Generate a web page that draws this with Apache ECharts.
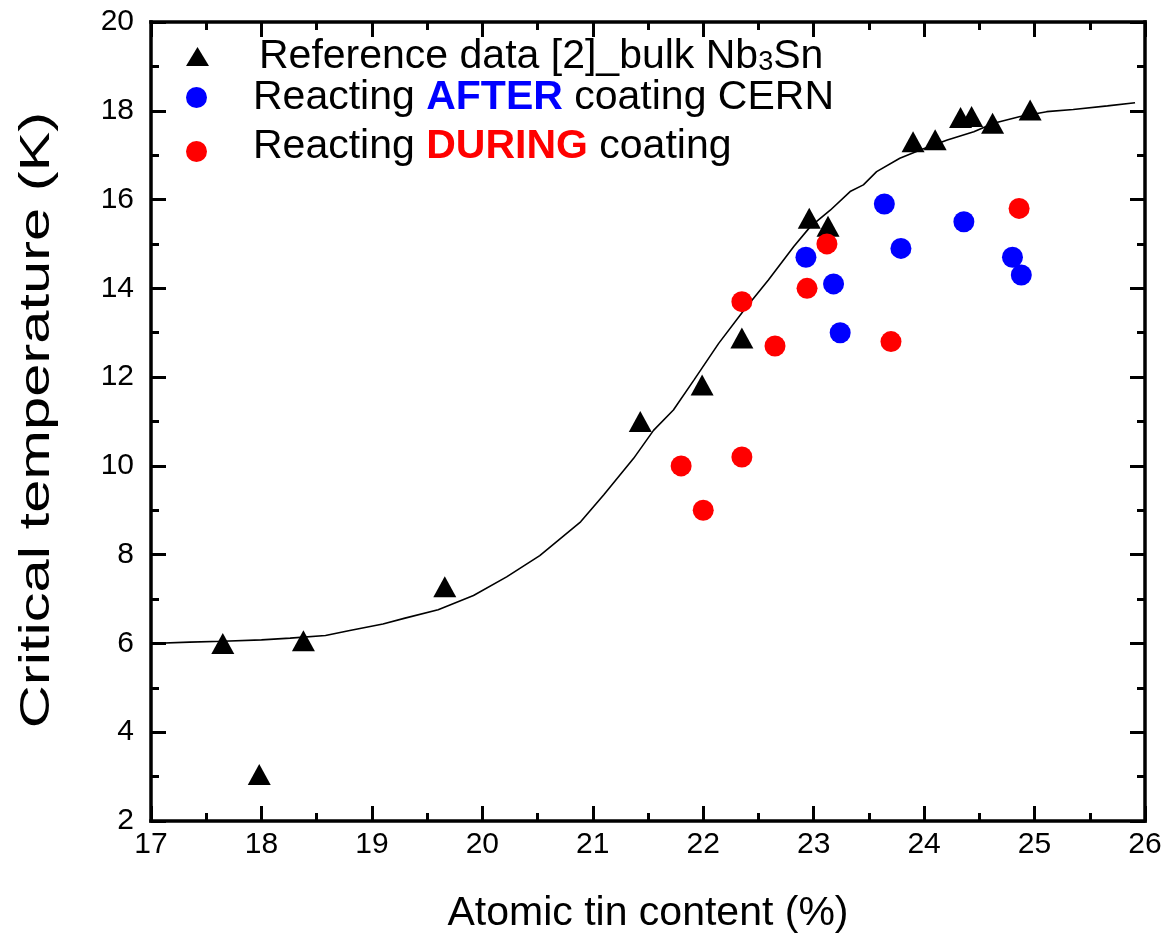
<!DOCTYPE html>
<html>
<head>
<meta charset="utf-8">
<script src="https://cdn.jsdelivr.net/npm/echarts@6/dist/echarts.min.js"></script>
<style>
  html, body { margin: 0; padding: 0; background: #fff; }
  #chart { width: 1166px; height: 939px; }
</style>
</head>
<body>
<div id="chart"></div>
<script>
// Critical temperature of Nb3Sn versus atomic tin content

const xTicks = [17, 26, 1];   // min, max, step (%)
const yTicks = [2, 20, 2];    // min, max, step (K)

// Reference data [2], bulk Nb3Sn
const refSn = [17.65, 17.98, 18.38, 19.66, 21.43, 21.99, 22.35, 22.96, 23.13, 23.90, 24.10, 24.33, 24.43, 24.62, 24.96];
const refTc = [6.00, 3.05, 6.06, 7.28, 11.00, 11.82, 12.88, 15.58, 15.40, 17.30, 17.35, 17.85, 17.87, 17.72, 18.02];

// Reacting AFTER coating (CERN)
const afterSn = [22.93, 23.18, 23.24, 23.64, 23.79, 24.36, 24.80, 24.88];
const afterTc = [14.7, 14.1, 13.0, 15.9, 14.9, 15.5, 14.7, 14.3];

// Reacting DURING coating
const duringSn = [21.80, 22.00, 22.35, 22.35, 22.65, 22.94, 23.12, 23.70, 24.86];
const duringTc = [10.0, 9.0, 10.2, 13.7, 12.7, 14.0, 15.0, 12.8, 15.8];

// Trend curve through the bulk reference data
const fitSn = [17.00, 17.35, 17.65, 18.00, 18.26, 18.58, 18.80, 19.10, 19.30, 19.60, 19.92, 20.22, 20.52, 20.89, 21.10, 21.37, 21.55, 21.73, 21.92, 22.14, 22.37, 22.59, 22.82, 22.97, 23.15, 23.33, 23.45, 23.57, 23.78, 23.97, 24.21, 24.45, 24.63, 24.87, 25.11, 25.35, 25.66, 25.91];
const fitTc = [6.00, 6.03, 6.05, 6.08, 6.12, 6.18, 6.29, 6.44, 6.57, 6.76, 7.08, 7.50, 7.98, 8.74, 9.35, 10.17, 10.80, 11.26, 11.95, 12.76, 13.51, 14.19, 14.94, 15.39, 15.76, 16.18, 16.33, 16.63, 16.93, 17.12, 17.34, 17.53, 17.72, 17.87, 17.98, 18.03, 18.11, 18.18];

const seriesNames = ['Reference data [2]_bulk Nb3Sn', 'Reacting AFTER coating CERN', 'Reacting DURING coating'];
const legendLabels = [
  'Reference data [2]_bulk Nb{sub|3}Sn',
  'Reacting {blue|AFTER} coating CERN',
  'Reacting {red|DURING} coating'
];
const xTitle = 'Atomic tin content (%)';
const yTitle = 'Critical temperature (K)';

const FONT = '"Liberation Sans", Arial, Helvetica, sans-serif';
const pairs = (xs, ys) => xs.map((x, i) => [x, ys[i]]);

const richStyles = {
  sub: { fontSize: 27, lineHeight: 18, verticalAlign: 'bottom', fontFamily: FONT, color: '#000' },
  blue: { fontWeight: 'bold', color: '#0000ff', fontSize: 41, fontFamily: FONT },
  red: { fontWeight: 'bold', color: '#ff0000', fontSize: 41, fontFamily: FONT }
};

function legendFor(i, top, padLeft, padBottom) {
  return {
    show: true,
    data: [seriesNames[i]],
    orient: 'vertical',
    left: 186,
    top: top,
    padding: 0,
    itemWidth: 23,
    itemHeight: i === 0 ? 19 : 21,
    selectedMode: false,
    formatter: () => legendLabels[i],
    textStyle: {
      fontFamily: FONT, fontSize: 41, lineHeight: 40, color: '#000',
      padding: [0, 0, padBottom, padLeft],
      rich: richStyles
    }
  };
}

const axisCommon = {
  type: 'value',
  axisLine: { show: true, onZero: false, lineStyle: { color: '#000', width: 3.5, cap: 'square' } },
  axisTick: { show: true, inside: true, length: 15, lineStyle: { color: '#000', width: 3 } },
  minorTick: { show: true, splitNumber: 2, length: 8, lineStyle: { color: '#000', width: 3 } },
  splitLine: { show: false },
  minorSplitLine: { show: false }
};

const chart = echarts.init(document.getElementById('chart'), null, { renderer: 'canvas' });

chart.setOption({
  backgroundColor: '#fff',
  animation: false,
  grid: { left: 151, top: 22, right: 21, bottom: 118, containLabel: false },
  legend: [
    legendFor(0, 36, 45, 0),
    legendFor(1, 77, 40, 0),
    legendFor(2, 126, 40, 10)
  ],
  graphic: [
    {
      // vertical axis title, stretched along its reading direction
      type: 'text',
      x: 37,
      y: 420,
      rotation: Math.PI / 2,
      scaleX: 1.42,
      silent: true,
      style: {
        text: yTitle,
        font: '42px ' + FONT,
        fill: '#000',
        align: 'center',
        verticalAlign: 'middle'
      }
    }
  ],
  xAxis: [
    Object.assign({}, axisCommon, {
      position: 'bottom',
      min: xTicks[0], max: xTicks[1], interval: xTicks[2],
      name: xTitle,
      nameLocation: 'middle',
      nameGap: 72,
      nameTextStyle: { fontFamily: FONT, fontSize: 41, color: '#000' },
      axisLabel: { show: true, margin: 9, fontFamily: FONT, fontSize: 30, color: '#000' }
    }),
    Object.assign({}, axisCommon, {
      position: 'top',
      min: xTicks[0], max: xTicks[1], interval: xTicks[2],
      axisLabel: { show: false }
    })
  ],
  yAxis: [
    Object.assign({}, axisCommon, {
      position: 'left',
      min: yTicks[0], max: yTicks[1], interval: yTicks[2],
      axisLabel: { show: true, margin: 17, fontFamily: FONT, fontSize: 30, color: '#000' }
    }),
    Object.assign({}, axisCommon, {
      position: 'right',
      min: yTicks[0], max: yTicks[1], interval: yTicks[2],
      axisLabel: { show: false }
    })
  ],
  series: [
    {
      name: 'fit',
      type: 'line',
      data: pairs(fitSn, fitTc),
      showSymbol: false,
      symbol: 'none',
      silent: true,
      z: 1,
      lineStyle: { color: '#000', width: 1.6 }
    },
    {
      name: seriesNames[0],
      type: 'scatter',
      data: pairs(refSn, refTc),
      symbol: 'triangle',
      symbolSize: [23, 21],
      itemStyle: { color: '#000', opacity: 1 },
      z: 3
    },
    {
      name: seriesNames[1],
      type: 'scatter',
      data: pairs(afterSn, afterTc),
      symbol: 'circle',
      symbolSize: 21,
      itemStyle: { color: '#0000ff', opacity: 1 },
      z: 3
    },
    {
      name: seriesNames[2],
      type: 'scatter',
      data: pairs(duringSn, duringTc),
      symbol: 'circle',
      symbolSize: 21,
      itemStyle: { color: '#ff0000', opacity: 1 },
      z: 3
    }
  ]
});
</script>
</body>
</html>
